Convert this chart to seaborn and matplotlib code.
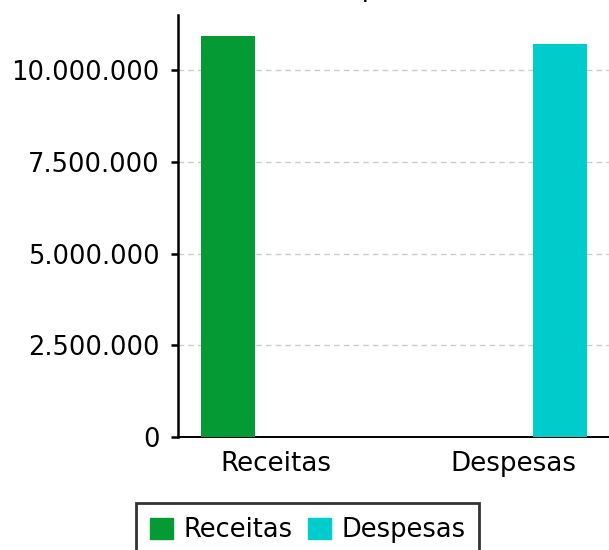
import pandas as pd
import seaborn as sns
import matplotlib.pyplot as plt
from matplotlib.ticker import FuncFormatter

categorias = ["Receitas", "Despesas"]
valores = [10930000, 10710000]
cores = ["#059b34", "#00cccc"]

df = pd.DataFrame({"tipo": categorias, "valor": valores})

sns.set_style("white")
plt.rcParams["font.family"] = ["DejaVu Sans"]
plt.rcParams["text.color"] = "black"
plt.rcParams["xtick.color"] = "black"
plt.rcParams["ytick.color"] = "black"

fig = plt.figure(figsize=(6.09, 5.5), dpi=100)
ax = fig.add_axes([0.292, 0.2055, 0.708, 0.767])

sns.barplot(data=df, x="tipo", y="valor", hue="tipo", order=categorias,
            hue_order=categorias, palette=cores, dodge=True, gap=0.43,
            saturation=1, ax=ax, legend=False, zorder=3, linewidth=0)

ax.set_xlim(-0.413, 1.405)
ax.set_ylim(0, 11500000)
ax.set_yticks([0, 2500000, 5000000, 7500000, 10000000])
ax.yaxis.set_major_formatter(FuncFormatter(lambda v, p: f"{int(v):,}".replace(",", ".")))
ax.grid(axis="y", linestyle=(0, (4, 3)), color="#cccccc", linewidth=1, zorder=0)
ax.set_xlabel("")
ax.set_ylabel("")
ax.tick_params(axis="y", labelsize=18.5, length=5, width=1.8, color="black", left=True, pad=8)
ax.tick_params(axis="x", labelsize=18.8, length=0, pad=10)

for s in ["top", "right"]:
    ax.spines[s].set_visible(False)
ax.spines["left"].set_linewidth(1.8)
ax.spines["left"].set_color("black")
ax.spines["bottom"].set_linewidth(1.4)
ax.spines["bottom"].set_color("black")

handles = [plt.Rectangle((0, 0), 1, 1, color=c) for c in cores]
leg = fig.legend(handles, categorias, loc="upper center", bbox_to_anchor=(0.505, 0.109),
                 ncol=2, fontsize=18.5, frameon=True, fancybox=False,
                 handlelength=0.9, handleheight=0.9, handletextpad=0.4,
                 columnspacing=0.6, borderpad=0.55)
leg.get_frame().set_edgecolor("black")
leg.get_frame().set_linewidth(2)
leg.set_zorder(5)

fig.suptitle("Receitas x Despesas", y=1.008, va="baseline", fontsize=18.5)

fig.savefig("out.png", dpi=100)
